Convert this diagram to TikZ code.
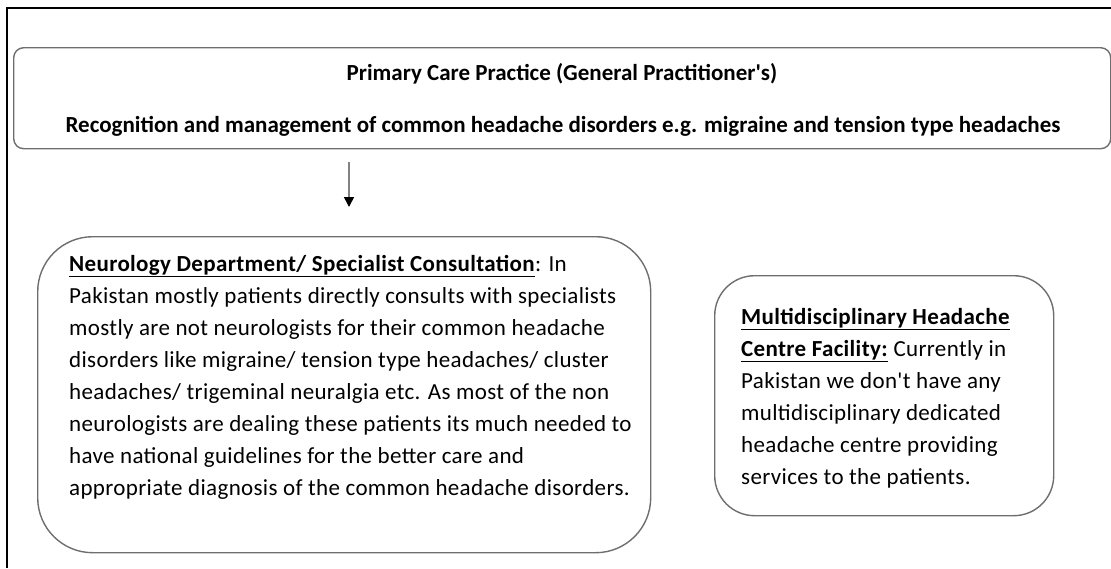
\documentclass[tikz,border=0pt]{standalone}
\usepackage{fontspec}
\setmainfont{Carlito}[Ligatures=TeXOff]
\usepackage{tikz}
\usetikzlibrary{positioning,arrows.meta}
\definecolor{boxLine}{RGB}{110,110,110}
\definecolor{arrowLine}{RGB}{130,130,130}
\tikzstyle{pixelGrid} = [x = 1pt, y = -1pt]
\tikzstyle{frameLine} = [color=black, line width=2pt]
\tikzstyle{careBox} = [draw=boxLine, line width=1.4pt, anchor=north west, inner sep=0pt]
\tikzstyle{boxText} = [anchor=north west, inner sep=0pt, align=left, font=\fontsize{23}{32}\selectfont\addfontfeatures{LetterSpace=1.5}]
\tikzstyle{titleText} = [anchor=base, inner sep=0pt, font=\fontsize{23}{28}\selectfont\bfseries]
\tikzstyle{flowArrow} = [color=arrowLine, line width=1.6pt, -{Triangle[width=10pt, length=10pt, color=black]}]
\newcommand{\careBox}[6]{\node [careBox, rounded corners = #6, minimum width = #4, minimum height = #5] (#1) at (#2, #3) {};}

\begin{document}
\begin{tikzpicture}[pixelGrid]
            \useasboundingbox (0,0) rectangle (1111,568);
            \draw [frameLine] (7,568) -- (7,8) -- (1111,8);

            % primary care
            \careBox{primary}{13}{47}{1097pt}{101pt}{10pt}
            \node [titleText] (primaryTitle) at (562,80) {Primary Care Practice (General Practitioner's)};
            \node [titleText] (primaryRole) at (563,132) {Recognition and management of common headache disorders e.g. migraine and tension type headaches};

            \coordinate (arrowStart) at (349,162);
            \coordinate (arrowEnd) at (349,207);
            \draw [flowArrow] (arrowStart) -- (arrowEnd);

            % neurology
            \careBox{neurology}{37}{236}{613pt}{316pt}{55pt}
            \node [boxText] (neurologyText) at ([xshift=32pt, yshift=-19pt]neurology.north west) {\underline{\textbf{Neurology Department/ Specialist Consultation}}: In\\
              Pakistan mostly patients directly consults with specialists\\
              mostly are not neurologists for their common headache\\
              disorders like migraine/ tension type headaches/ cluster\\
              headaches/ trigeminal neuralgia etc. As most of the non\\
              neurologists are dealing these patients its much needed to\\
              have national guidelines for the better care and\\
              appropriate diagnosis of the common headache disorders.};

            % multidisciplinary
            \careBox{centre}{714}{275}{339pt}{240pt}{40pt}
            \node [boxText] (centreText) at ([xshift=27pt, yshift=-33pt]centre.north west) {\underline{\textbf{Multidisciplinary Headache}}\\
              \underline{\textbf{Centre Facility:}} Currently in\\
              Pakistan we don't have any\\
              multidisciplinary dedicated\\
              headache centre providing\\
              services to the patients.};
          \end{tikzpicture}
\end{document}
